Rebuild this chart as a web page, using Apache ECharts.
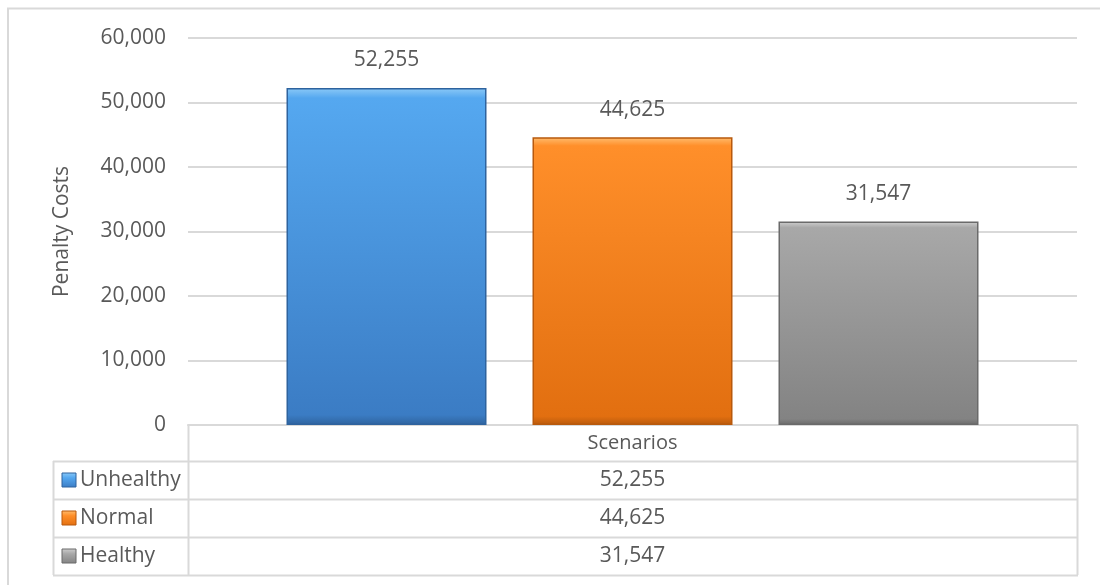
<!DOCTYPE html>
<html>
<head>
<meta charset="utf-8">
<script src="https://cdn.jsdelivr.net/npm/echarts@6/dist/echarts.min.js"></script>
<style>html,body{margin:0;padding:0;background:#fff;}#c{width:1100px;height:585px;}</style>
</head>
<body>
<div id="c"></div>
<script>
const categories = ['Scenarios'];
const seriesNames = ['Unhealthy', 'Normal', 'Healthy'];
const seriesValues = [[52255], [44625], [31547]];
const yTicks = { min: 0, max: 60000, interval: 10000 };
const yTitle = 'Penalty Costs';

const FONT = 'Open Sans';
const TXT = '#595959';
const GRID = '#d9d9d9';
const palettes = [
  { top: '#55a8f0', bot: '#3b7cc4', edge: '#2e639e', hi: '#8ccaf7' },
  { top: '#ff8f2a', bot: '#e26f10', edge: '#b8590c', hi: '#ffbe70' },
  { top: '#a8a8a8', bot: '#838383', edge: '#6a6a6a', hi: '#cfcfcf' }
];
const fmt = v => v.toLocaleString('en-US');

function grad(p) {
  return new echarts.graphic.LinearGradient(0, 0, 0, 1, [
    { offset: 0, color: p.hi },
    { offset: 0.03, color: p.top },
    { offset: 0.97, color: p.bot },
    { offset: 1, color: p.edge }
  ]);
}

const chart = echarts.init(document.getElementById('c'), null, { renderer: 'canvas' });

const gridL = 188, gridR = 1077, gridT = 38, gridB = 425;
const rowH = 38, headerH = 36, tableL = 53;

const graphics = [];
graphics.push({ type: 'polyline', shape: { points: [[8, 590], [8, 8.5], [1110, 8.5]] }, style: { stroke: '#d9d9d9', lineWidth: 2, fill: null }, silent: true });
const tableBottom = gridB + headerH + rowH * seriesNames.length;
graphics.push({ type: 'line', shape: { x1: gridL + 0.5, y1: gridB, x2: gridL + 0.5, y2: tableBottom }, style: { stroke: GRID, lineWidth: 2 } });
graphics.push({ type: 'line', shape: { x1: gridR + 0.5, y1: gridB, x2: gridR + 0.5, y2: tableBottom }, style: { stroke: GRID, lineWidth: 2 } });
graphics.push({ type: 'line', shape: { x1: tableL + 0.5, y1: gridB + headerH, x2: tableL + 0.5, y2: tableBottom }, style: { stroke: GRID, lineWidth: 2 } });
for (let i = 0; i <= seriesNames.length; i++) {
  const y = gridB + headerH + rowH * i + 0.5;
  graphics.push({ type: 'line', shape: { x1: tableL, y1: y, x2: gridR + 1, y2: y }, style: { stroke: GRID, lineWidth: 2 } });
}
seriesNames.forEach((name, i) => {
  const cy = gridB + headerH + rowH * i + rowH / 2;
  const p = palettes[i];
  graphics.push({ type: 'rect', shape: { x: 62, y: cy - 7, width: 14, height: 14 }, style: { fill: new echarts.graphic.LinearGradient(0, 0, 0, 1, [{ offset: 0, color: p.hi }, { offset: 0.35, color: p.top }, { offset: 1, color: p.bot }]), stroke: p.edge, lineWidth: 1 } });
  graphics.push({ type: 'text', x: 80, y: cy, style: { text: name, font: '21px "' + FONT + '"', fill: TXT, textVerticalAlign: 'middle', textAlign: 'left' } });
  graphics.push({ type: 'text', x: (gridL + gridR) / 2, y: cy, style: { text: fmt(seriesValues[i][0]), font: '21px "' + FONT + '"', fill: TXT, textVerticalAlign: 'middle', textAlign: 'center' } });
});

const option = {
  backgroundColor: '#fff',
  animation: false,
  grid: { left: gridL, right: 1100 - gridR, top: gridT, bottom: 585 - gridB, containLabel: false },
  xAxis: {
    type: 'category',
    data: categories,
    axisLine: { show: true, lineStyle: { color: GRID, width: 2 } },
    axisTick: { show: false },
    axisLabel: { color: TXT, fontFamily: FONT, fontSize: 20, margin: 8 }
  },
  yAxis: {
    type: 'value',
    min: yTicks.min, max: yTicks.max, interval: yTicks.interval,
    name: yTitle,
    nameLocation: 'middle',
    nameGap: 115,
    nameRotate: 90,
    nameTextStyle: { color: TXT, fontFamily: FONT, fontSize: 21 },
    axisLine: { show: false },
    axisTick: { show: false },
    axisLabel: { color: TXT, fontFamily: FONT, fontSize: 21, margin: 22, formatter: v => fmt(v) },
    splitLine: { lineStyle: { color: GRID, width: 2 } }
  },
  series: seriesNames.map((name, i) => ({
    name: name,
    type: 'bar',
    data: seriesValues[i],
    barWidth: 200,
    barGap: '23%',
    itemStyle: { color: grad(palettes[i]), borderColor: palettes[i].edge, borderWidth: 1.5 },
    label: { show: true, position: 'top', distance: 17, color: TXT, fontFamily: FONT, fontSize: 21, formatter: p => fmt(p.value) }
  })),
  graphic: graphics
};
chart.setOption(option);
</script>
</body>
</html>
